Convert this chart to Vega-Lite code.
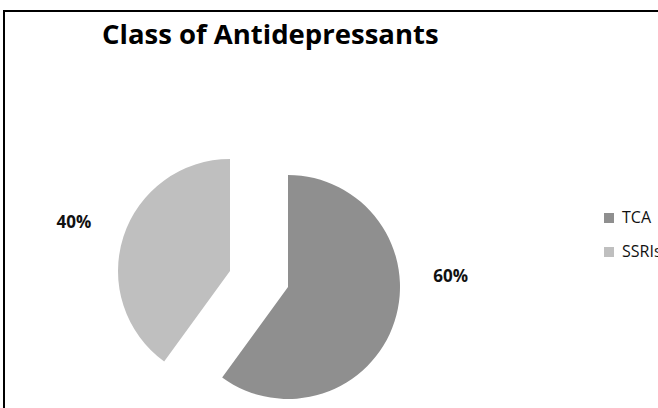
{
  "$schema": "https://vega.github.io/schema/vega-lite/v6.json",
  "width": 700,
  "height": 450,
  "autosize": "none",
  "padding": {"left": 4, "top": 11, "right": 0, "bottom": 0},
  "background": "white",
  "view": {"stroke": "black", "strokeWidth": 2},
  "config": {
    "view": {"stroke": "black", "strokeWidth": 2},
    "font": "Open Sans"
  },
  "title": {
    "text": "Class of Antidepressants",
    "anchor": "start",
    "orient": "top",
    "offset": -29,
    "baseline": "alphabetic",
    "dx": 98,
    "dy": 31,
    "fontSize": 27.5,
    "fontWeight": "bold",
    "color": "#000000",
    "font": "Open Sans"
  },
  "data": {
    "values": [
      {"class": "TCA", "value": 60, "label": "60%"},
      {"class": "SSRIs", "value": 40, "label": "40%"}
    ]
  },
  "transform": [
    {"stack": "value", "groupby": [], "sort": [{"field": "class", "order": "descending"}], "as": ["start", "end"]}
  ],
  "encoding": {
    "theta": {"field": "start", "type": "quantitative", "scale": {"domain": [0, 100]}},
    "theta2": {"field": "end"},
    "color": {
      "field": "class",
      "type": "nominal",
      "scale": {"domain": ["TCA", "SSRIs"], "range": ["#8f8f8f", "#bfbfbf"]},
      "legend": {
        "title": null,
        "orient": "none",
        "legendX": 597,
        "legendY": 199,
        "symbolType": "square",
        "symbolSize": 100,
        "symbolStrokeWidth": 0,
        "labelFont": "Open Sans",
        "labelFontSize": 16,
        "labelColor": "#111111",
        "labelOffset": 5,
        "rowPadding": 18,
        "padding": 0
      }
    }
  },
  "layer": [
    {
      "transform": [{"filter": "datum.class === 'TCA'"}],
      "layer": [
        {"mark": {"type": "arc", "radius": 112, "xOffset": -66, "yOffset": 51}},
        {
          "mark": {"type": "text", "radius": 163, "thetaOffset": 1.515, "xOffset": -66, "yOffset": 50, "fontSize": 17, "fontWeight": "bold", "font": "Open Sans"},
          "encoding": {"text": {"field": "label"}, "color": {"value": "#111111"}}
        }
      ]
    },
    {
      "transform": [{"filter": "datum.class === 'SSRIs'"}],
      "layer": [
        {"mark": {"type": "arc", "radius": 112, "xOffset": -124, "yOffset": 35}},
        {
          "mark": {"type": "text", "radius": 163, "thetaOffset": 1.236, "xOffset": -124, "yOffset": 34, "fontSize": 17, "fontWeight": "bold", "font": "Open Sans"},
          "encoding": {"text": {"field": "label"}, "color": {"value": "#111111"}}
        }
      ]
    }
  ]
}
